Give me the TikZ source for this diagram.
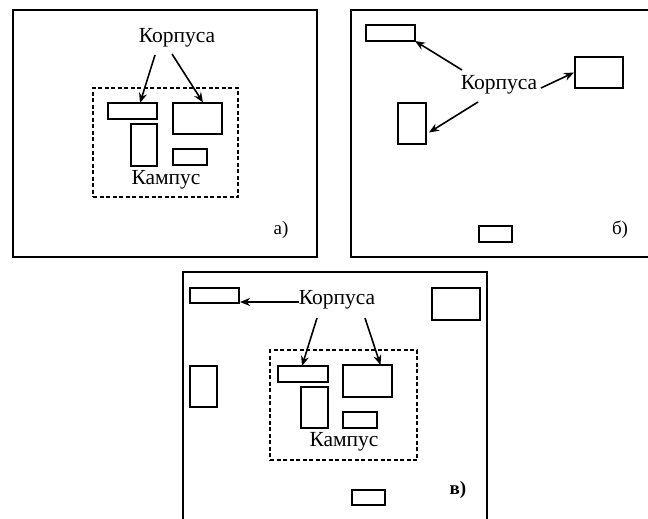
\documentclass[tikz,border=0pt]{standalone}
\usepackage{fontspec}
\setmainfont{Liberation Serif}
\usetikzlibrary{arrows.meta,calc}
\begin{document}
\begin{tikzpicture}[x=1pt,y=-1pt,
  frame/.style={line width=1.6pt},
  bld/.style={draw,line width=1.5pt,inner sep=0pt,outer sep=0pt},
  campus/.style={draw,line width=1.5pt,dash pattern=on 4pt off 2.5pt,inner sep=0pt,outer sep=0pt},
  lbl/.style={inner sep=1pt,font=\fontsize{21.5}{25}\selectfont},
  tag/.style={inner sep=1pt,font=\fontsize{19}{22}\selectfont},
  arr/.style={line width=1.6pt,-{Stealth[length=10pt,width=8pt]}}]
\useasboundingbox (0,0) rectangle (648,519);
% frames
\draw[frame] (13,10) rectangle (317,257);
\draw[frame] (648,10) -- (351,10) -- (351,257) -- (648,257);
\draw[frame] (183,519) -- (183,272) -- (487,272) -- (487,519);

% ---- panel a
\node[campus,minimum width=145pt,minimum height=109pt] (ca) at (165.5,142.5) {};
\node[bld,minimum width=49pt,minimum height=16pt] (a1) at (132.5,111) {};
\node[bld,minimum width=49pt,minimum height=31pt] (a2) at (197.5,118.5) {};
\node[bld,minimum width=26pt,minimum height=42pt] (a3) at (144,145) {};
\node[bld,minimum width=34pt,minimum height=16pt] (a4) at (190,157) {};
\node[lbl] (ka) at (177,38) {Корпуса};
\node[lbl] (kma) at (166,180) {Кампус};
\node[tag] (ta) at (281,230) {а)};
\draw[arr] ($(ka)+(-22,17)$) -- ($(a1)+(7.5,-8)$);
\draw[arr] ($(ka)+(-5,16)$) -- ($(a2)+(5.5,-16)$);

% ---- panel b
\node[bld,minimum width=49pt,minimum height=16pt] (b1) at (390.5,33) {};
\node[bld,minimum width=48pt,minimum height=31pt] (b2) at (599,72.5) {};
\node[bld,minimum width=28pt,minimum height=41pt] (b3) at (412,123.5) {};
\node[bld,minimum width=33pt,minimum height=16pt] (b4) at (495.5,234) {};
\node[lbl] (kb) at (499,85) {Корпуса};
\node[tag] (tb) at (620,230) {б)};
\draw[arr] ($(kb)+(-37,-15)$) -- (b1.south east);
\draw[arr] ($(kb)+(42,3)$) -- ($(b2.west)+(-1,0)$);
\draw[arr] ($(kb)+(-21,17)$) -- ($(b3.east)+(3,9)$);

% ---- panel c
\node[campus,minimum width=147pt,minimum height=110pt] (cc) at (343.5,405) {};
\node[bld,minimum width=49pt,minimum height=15pt] (c1) at (214.5,295.5) {};
\node[bld,minimum width=48pt,minimum height=32pt] (c2) at (456,304) {};
\node[bld,minimum width=27pt,minimum height=41pt] (c3) at (203.5,386.5) {};
\node[bld,minimum width=50pt,minimum height=16pt] (c4) at (303,374) {};
\node[bld,minimum width=49pt,minimum height=32pt] (c5) at (367.5,381) {};
\node[bld,minimum width=27pt,minimum height=41pt] (c6) at (314.5,407.5) {};
\node[bld,minimum width=34pt,minimum height=16pt] (c7) at (360,420) {};
\node[bld,minimum width=33pt,minimum height=15pt] (c8) at (368.5,497.5) {};
\node[lbl] (kc) at (337,300) {Корпуса};
\node[lbl] (kmc) at (344,442) {Кампус};
\node[tag,font=\fontsize{19}{22}\selectfont\bfseries] (tc) at (458,490) {в)};
\draw[arr] ($(kc)+(-38,2)$) -- ($(c1.south east)+(1,-1)$);
\draw[arr] ($(kc)+(-20,18)$) -- ($(c4.north)+(-1,0)$);
\draw[arr] ($(kc)+(28,18)$) -- ($(c5.north)+(13,0)$);
\end{tikzpicture}
\end{document}
